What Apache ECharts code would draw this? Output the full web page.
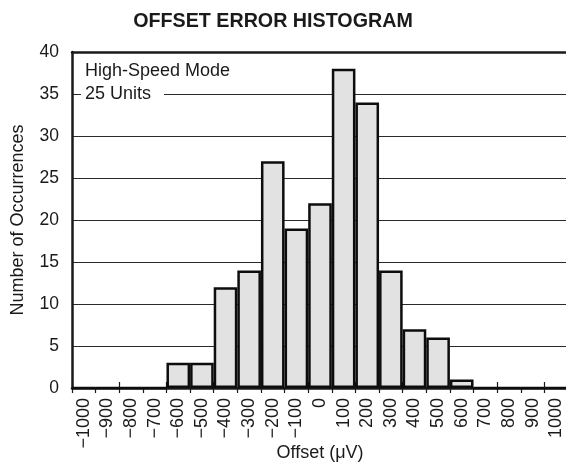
<!DOCTYPE html>
<html>
<head>
<meta charset="utf-8">
<script src="https://cdn.jsdelivr.net/npm/echarts@6/dist/echarts.min.js"></script>
<style>
  html, body { margin: 0; padding: 0; background: #fff; }
  #chart { width: 566px; height: 468px; }
</style>
</head>
<body>
<div id="chart"></div>
<script>
// Offset bins (µV), one category per 100 µV bin
const offsetBins = ['−1000', '−900', '−800', '−700', '−600', '−500', '−400', '−300', '−200', '−100',
  '0', '100', '200', '300', '400', '500', '600', '700', '800', '900', '1000'];
// Number of units falling in each bin
const occurrences = [0, 0, 0, 0, 3, 3, 12, 14, 27, 19, 22, 38, 34, 14, 7, 6, 1, 0, 0, 0, 0];
// Y-axis range
const yMin = 0, yMax = 40, yStep = 5;

const font = '"Liberation Sans", Arial, Helvetica, sans-serif';
const ink = '#1a1a1a';

const chart = echarts.init(document.getElementById('chart'), null, { renderer: 'canvas' });

chart.setOption({
  animation: false,
  backgroundColor: '#ffffff',
  title: {
    text: 'OFFSET ERROR HISTOGRAM',
    left: 268, top: 7, textAlign: 'center',
    textStyle: { fontFamily: font, fontSize: 19.7, fontWeight: 'bold', color: ink }
  },
  grid: { left: 72, top: 52, width: 496, height: 336, containLabel: false, outerBoundsMode: 'none' },
  xAxis: [
    {
      type: 'category',
      data: offsetBins,
      boundaryGap: true,
      name: 'Offset (μV)',
      nameLocation: 'middle',
      nameGap: 56,
      nameMoveOverlap: false,
      nameTextStyle: { fontFamily: font, fontSize: 18, color: ink },
      axisLine: { lineStyle: { color: ink, width: 2.5 } },
      axisTick: { show: true, inside: false, length: 5, lineStyle: { color: ink, width: 1.2 } },
      axisLabel: { rotate: 90, margin: 10, fontFamily: font, fontSize: 18, color: ink, interval: 0 },
      splitLine: { show: false }
    },
    {
      // inner half of the crossing tick marks
      type: 'category',
      data: offsetBins,
      boundaryGap: true,
      position: 'bottom',
      axisLine: { show: false },
      axisTick: { show: true, inside: true, length: 6, lineStyle: { color: ink, width: 1.2 } },
      axisLabel: { show: false },
      splitLine: { show: false }
    },
    {
      // frame line along the top of the plot
      type: 'category',
      data: offsetBins,
      position: 'top',
      axisLine: { show: true, lineStyle: { color: ink, width: 2.5 } },
      axisTick: { show: false },
      axisLabel: { show: false },
      splitLine: { show: false }
    }
  ],
  yAxis: {
    type: 'value',
    min: yMin, max: yMax, interval: yStep,
    name: 'Number of Occurrences',
    nameLocation: 'middle',
    nameGap: 45,
    nameMoveOverlap: false,
    nameTextStyle: { fontFamily: font, fontSize: 18, color: ink },
    axisLine: { show: true, lineStyle: { color: ink, width: 2.5 } },
    axisTick: { show: false },
    axisLabel: { margin: 13, fontFamily: font, fontSize: 17.5, color: ink },
    splitLine: { show: true, lineStyle: { color: '#2a2a2a', width: 1 } }
  },
  series: [{
    type: 'bar',
    xAxisIndex: 0,
    data: occurrences,
    barCategoryGap: '0%',
    itemStyle: { color: '#e1e2e1', borderColor: '#0d0d0d', borderWidth: 2.5 },
    z: 3
  }],
  graphic: [
    {
      type: 'text', left: 85, top: 62, z: 10,
      style: { text: 'High-Speed Mode', fontFamily: font, fontSize: 18, fill: ink,
        backgroundColor: '#fff' }
    },
    {
      type: 'text', left: 81, top: 85, z: 10,
      style: { text: '25 Units', fontFamily: font, fontSize: 18, fill: ink,
        backgroundColor: '#fff', padding: [0, 13, 0, 4] }
    }
  ]
});
</script>
</body>
</html>
